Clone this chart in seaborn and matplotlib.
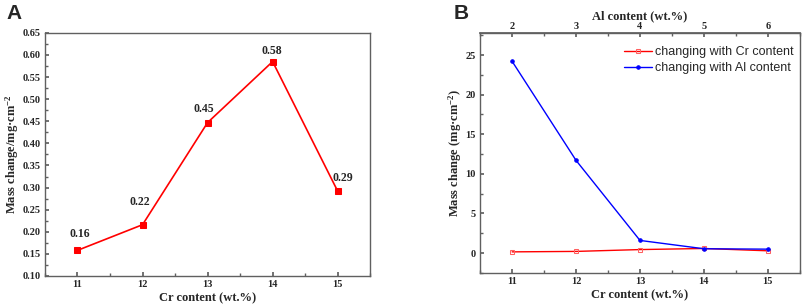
import pandas as pd
import matplotlib.pyplot as plt
import matplotlib.ticker as mtick
import seaborn as sns

cr_content = [11, 12, 13, 14, 15]
al_content = [2, 3, 4, 5, 6]
mass_cr = [0.158, 0.216, 0.447, 0.585, 0.292]
mass_cr_labels = ['0.16', '0.22', '0.45', '0.58', '0.29']
mass_al = [24.2, 11.7, 1.6, 0.55, 0.5]

# where each value label sits relative to its point (points)
label_offsets = [(1.5, 12), (-2, 16), (-3, 9.5), (-0.7, 7.5), (3.5, 9.5)]

sns.set_theme(style='white')
plt.rcParams['font.family'] = ['Liberation Serif', 'DejaVu Serif']
plt.rcParams['font.weight'] = 'bold'
plt.rcParams['axes.labelweight'] = 'bold'
plt.rcParams['mathtext.fontset'] = 'custom'
plt.rcParams['mathtext.rm'] = 'Liberation Serif:bold'
plt.rcParams['mathtext.it'] = 'Liberation Serif:bold'
plt.rcParams['mathtext.bf'] = 'Liberation Serif:bold'
plt.rcParams['mathtext.default'] = 'rm'

df_cr = pd.DataFrame({'cr': cr_content, 'mass': mass_cr})
df_al = pd.DataFrame({'cr': cr_content, 'al': al_content, 'mass': mass_al})

fig = plt.figure(figsize=(8.03, 3.07), dpi=100)
ax1 = fig.add_axes([0.056, 0.101, 0.405, 0.792])
ax2 = fig.add_axes([0.598, 0.111, 0.398, 0.782])

spine_col = '#606060'


def style_axes(ax):
    for s in ax.spines.values():
        s.set_color(spine_col)
        s.set_linewidth(1.0)
    ax.tick_params(axis='both', which='both', direction='in', color=spine_col,
                   labelsize=7.5, pad=3)
    ax.tick_params(which='major', length=3)
    ax.tick_params(which='minor', length=2)
    ax.tick_params(axis='both', which='both', left=True, bottom=True, top=False, right=False)
    for lab in ax.get_xticklabels() + ax.get_yticklabels():
        lab.set_fontweight('bold')


# panel A
sns.lineplot(data=df_cr, x='cr', y='mass', ax=ax1, color='#ff0000', marker='s',
             markersize=5, markeredgecolor='#ff0000', linewidth=1.2)
for x, y, t, off in zip(cr_content, mass_cr, mass_cr_labels, label_offsets):
    ax1.annotate(t, (x, y), xytext=off, textcoords='offset points',
                 ha='center', va='center', fontsize=8.5, fontweight='bold')
ax1.set_xlim(10.5, 15.5)
ax1.set_ylim(0.10, 0.65)
ax1.xaxis.set_major_locator(mtick.MultipleLocator(1))
ax1.xaxis.set_minor_locator(mtick.MultipleLocator(0.5))
ax1.yaxis.set_major_locator(mtick.MultipleLocator(0.05))
ax1.yaxis.set_minor_locator(mtick.MultipleLocator(0.025))
ax1.yaxis.set_major_formatter(mtick.FormatStrFormatter('%.2f'))
ax1.set_xlabel('Cr content (wt.%)', fontsize=9, labelpad=2)
ax1.set_ylabel('Mass change/mg·cm$^{-2}$', fontsize=9, labelpad=1)
style_axes(ax1)

# panel B
sns.lineplot(data=df_cr, x='cr', y='mass', ax=ax2, color='#ff0000', marker='s',
             markersize=2.5, markerfacecolor='none', markeredgecolor='#ff6060',
             linewidth=1.0, label='changing with Cr content')
sns.lineplot(data=df_al, x='cr', y='mass', ax=ax2, color='#0000ff', marker='o',
             markersize=2.5, markeredgecolor='#0000ff', linewidth=1.0,
             label='changing with Al content')
ax2.set_xlim(10.5, 15.5)
ax2.set_ylim(-2.5, 27.8)
ax2.xaxis.set_major_locator(mtick.MultipleLocator(1))
ax2.xaxis.set_minor_locator(mtick.MultipleLocator(0.5))
ax2.yaxis.set_major_locator(mtick.MultipleLocator(5))
ax2.yaxis.set_minor_locator(mtick.MultipleLocator(2.5))
ax2.set_xlabel('Cr content (wt.%)', fontsize=9, labelpad=2)
ax2.set_ylabel('Mass change (mg·cm$^{-2}$)', fontsize=9, labelpad=1)
style_axes(ax2)

ax2.legend(loc='upper right', frameon=False, handlelength=2.3,
           borderaxespad=0.1, labelspacing=0.3, handletextpad=0.2,
           bbox_to_anchor=(1.0, 0.97),
           prop={'family': 'Liberation Sans', 'size': 9, 'weight': 'normal'})

# top axis: Al content aligned with Cr positions
top = ax2.secondary_xaxis('top', functions=(lambda c: c - 9, lambda a: a + 9))
top.xaxis.set_major_locator(mtick.FixedLocator(al_content))
top.xaxis.set_minor_locator(mtick.FixedLocator([1.5, 2.5, 3.5, 4.5, 5.5, 6.5]))
top.tick_params(axis='x', which='both', direction='in', color=spine_col,
                labelsize=7.5, pad=1)
top.tick_params(which='major', length=3)
top.tick_params(which='minor', length=2)
top.spines['top'].set_color(spine_col)
top.set_xlabel('Al content (wt.%)', fontsize=9, labelpad=2, fontweight='bold')
for lab in top.get_xticklabels():
    lab.set_fontweight('bold')

fig.text(0.008, 0.955, 'A', fontsize=15, fontweight='bold', family='Liberation Sans',
         va='center')
fig.text(0.565, 0.955, 'B', fontsize=15, fontweight='bold', family='Liberation Sans',
         va='center')

fig.savefig('out.png', dpi=100)
